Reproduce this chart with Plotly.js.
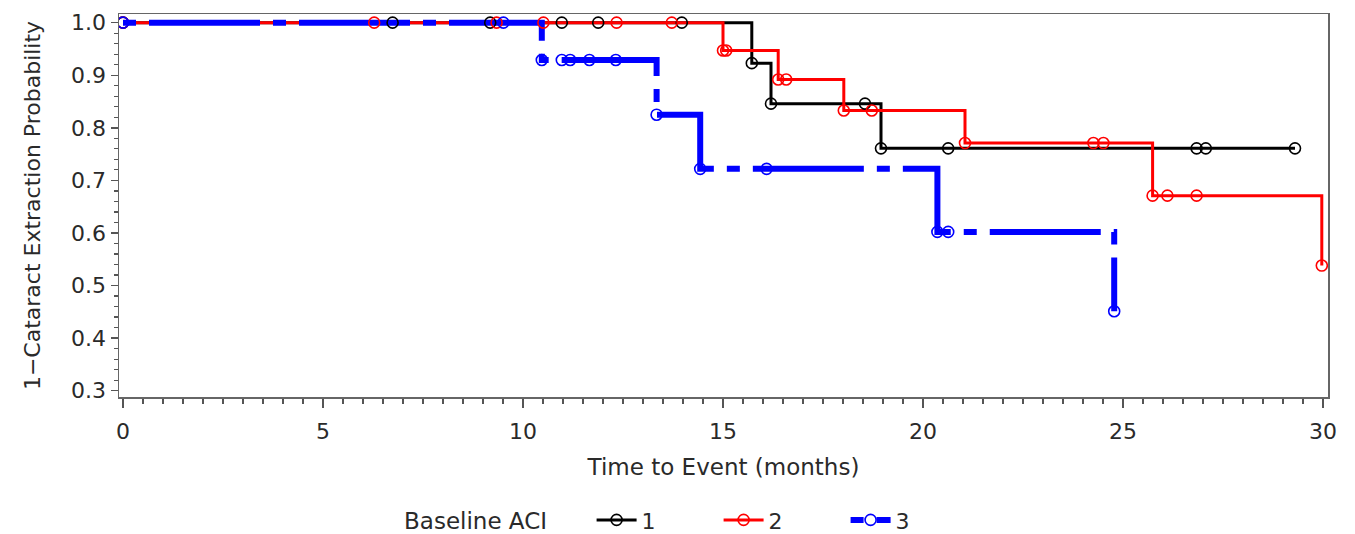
<!DOCTYPE html>
<html>
<head>
<meta charset="utf-8">
<script src="https://cdn.plot.ly/plotly-3.0.1.min.js"></script>
<style>html,body{margin:0;padding:0;background:#fff;}#chart{width:1355px;height:534px;}</style>
</head>
<body>
<div id="chart"></div>
<script>
// Kaplan-Meier step points (time in months, survival probability)
const group1Time = [0, 15.72, 16.2, 18.95, 29.3];
const group1Surv = [1, 0.923, 0.846, 0.761, 0.761];
const group1CensorTime = [6.74, 9.18, 10.97, 11.88, 13.97, 18.55, 20.63, 26.84, 27.07];
const group1CensorSurv = [1, 1, 1, 1, 1, 0.846, 0.761, 0.761, 0.761];

const group2Time = [0, 15.0, 16.38, 18.02, 21.05, 25.74, 29.97];
const group2Surv = [1, 0.947, 0.892, 0.833, 0.771, 0.671, 0.538];
const group2CensorTime = [6.28, 9.34, 10.51, 12.34, 13.72, 15.08, 16.58, 18.72, 24.26, 24.51, 26.11, 26.84];
const group2CensorSurv = [1, 1, 1, 1, 1, 0.947, 0.892, 0.833, 0.771, 0.771, 0.671, 0.671];

const group3Time = [0, 10.47, 13.34, 14.43, 20.36, 24.78];
const group3Surv = [1, 0.929, 0.825, 0.722, 0.602, 0.451];
const group3CensorTime = [9.51, 10.97, 11.18, 11.66, 12.32, 16.09, 20.63];
const group3CensorSurv = [1, 0.929, 0.929, 0.929, 0.929, 0.722, 0.602];

const groupNames = ['1', '2', '3'];
const xTickVals = [0, 5, 10, 15, 20, 25, 30];
const yTickVals = [0.3, 0.4, 0.5, 0.6, 0.7, 0.8, 0.9, 1.0];

const colors = ['#000000', '#ff0000', '#0000ff'];
const widths = [3, 3, 6];
const dashes = ['solid', 'solid', '13px,13px,111px,13px'];

const times = [group1Time, group2Time, group3Time];
const survs = [group1Surv, group2Surv, group3Surv];
const cTimes = [group1CensorTime, group2CensorTime, group3CensorTime];
const cSurvs = [group1CensorSurv, group2CensorSurv, group3CensorSurv];

const traces = [];
for (let i = 0; i < 3; i++) {
  traces.push({
    type: 'scatter', mode: 'lines+markers', name: groupNames[i],
    x: times[i], y: survs[i],
    line: {shape: 'hv', color: colors[i], width: widths[i], dash: dashes[i]},
    marker: {symbol: 'circle-open', size: 11, color: colors[i], line: {width: 1.6, color: colors[i]}},
    hoverinfo: 'x+y'
  });
}
for (let i = 0; i < 3; i++) {
  traces.push({
    type: 'scatter', mode: 'markers', showlegend: false, name: groupNames[i],
    x: cTimes[i], y: cSurvs[i],
    marker: {symbol: 'circle-open', size: 11, color: colors[i], line: {width: 1.6, color: colors[i]}},
    hoverinfo: 'x+y'
  });
}

const fontFam = 'DejaVu Sans, Liberation Sans, sans-serif';
const txt = '#2a2a2a';
const layout = {
  width: 1355, height: 534,
  margin: {l: 119, r: 27, t: 14, b: 137},
  paper_bgcolor: '#ffffff', plot_bgcolor: '#ffffff',
  font: {family: fontFam, size: 21, color: txt},
  showlegend: true,
  legend: {
    orientation: 'h', xref: 'container', yref: 'container',
    x: 0.2967, xanchor: 'left', y: 0.026, yanchor: 'middle',
    title: {text: 'Baseline ACI\u00a0\u00a0\u00a0\u00a0\u00a0', side: 'left', font: {size: 23, color: txt}},
    font: {size: 22, color: txt}, itemwidth: 40, entrywidth: 72, tracegroupgap: 0
  },
  xaxis: {
    range: [-0.1, 30.125], tickvals: xTickVals, ticks: 'outside', ticklen: 9, tickwidth: 1.5,
    tickcolor: '#555', showline: true, mirror: true, linecolor: '#666', linewidth: 1.5,
    showgrid: false, zeroline: false, tickfont: {size: 22, color: txt}, ticklabelstandoff: 5,
    minor: {dtick: 0.5, tick0: 0, ticks: 'outside', ticklen: 5, tickcolor: '#555', tickwidth: 1.2, showgrid: false},
    title: {text: 'Time to Event (months)', font: {size: 23, color: txt}, standoff: 16}
  },
  yaxis: {
    range: [0.288, 1.0165], tickvals: yTickVals, tickformat: '.1f', ticks: 'outside', ticklen: 7, tickwidth: 1.5,
    tickcolor: '#555', showline: true, mirror: true, linecolor: '#666', linewidth: 1.5,
    showgrid: false, zeroline: false, tickfont: {size: 22, color: txt},
    minor: {dtick: 0.02, tick0: 0, ticks: 'outside', ticklen: 4, tickcolor: '#555', tickwidth: 1.2, showgrid: false},
    title: {text: '1−Cataract Extraction Probability', font: {size: 22, color: txt}, standoff: 24}
  }
};

Plotly.newPlot('chart', traces, layout, {displayModeBar: false, staticPlot: true});
</script>
</body>
</html>
